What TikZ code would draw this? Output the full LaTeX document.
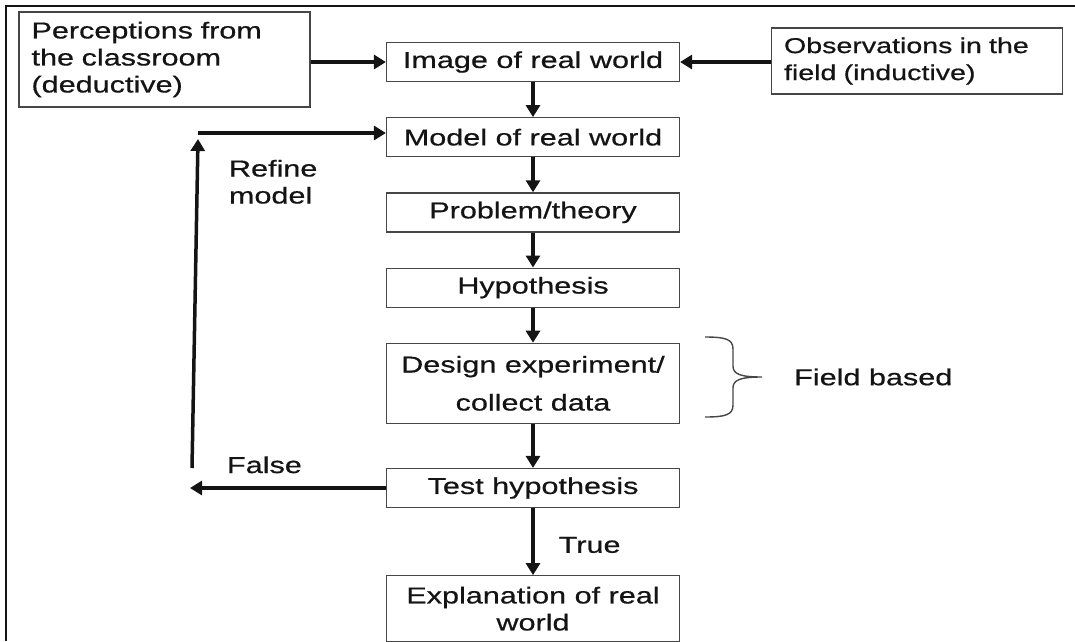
\documentclass[tikz,border=0pt]{standalone}
\usepackage{fontspec}
\setmainfont[FakeStretch=1.33,FakeBold=0.6]{Liberation Sans}
\usepackage{tikz}
\usetikzlibrary{positioning,arrows.meta}
\definecolor{colorline}{RGB}{70,70,70}
\definecolor{colortext}{RGB}{20,20,20}

\begin{document}
\begin{tikzpicture}[
    x=1pt, y=-1pt,
    node distance = 35pt, auto,
    font={\fontsize{23}{27}\selectfont},
    stage/.style={text=colortext,draw=colorline,line width=1.2pt,inner sep=0pt,align=center,rectangle,minimum width=293pt,minimum height=39pt},
    source/.style={text=colortext,draw=colorline,line width=1.2pt,inner xsep=12.5pt,inner ysep=0pt,align=left,rectangle,text width=266pt},
    relation/.style={->,>={Triangle[length=12pt,width=14pt]},line width=3.5pt,colortext},
    tag/.style={text=colortext,inner sep=0pt,align=left},
]
    \useasboundingbox (0,0) rectangle (1075,641);

    % Frame
    \draw[line width=2pt,colortext] (1075,6) -- (6,6) -- (6,641);

    % Concepts
    \node[stage] (image) at (533,62) {Image of real world};
    \node[stage, below=of image] (model) {Model of real world};
    \node[stage, below=of model] (problem) {Problem/theory};
    \node[stage, below=of problem] (hypo) {Hypothesis};
    \node[stage, below=of hypo, minimum height=80pt] (design) {Design experiment/\\[11pt]collect data};
    \node[stage, below=44pt of design] (test) {Test hypothesis};
    \node[stage, below=67pt of test, minimum height=66pt] (explain) {Explanation of real\\world};

    \node[source, minimum height=95pt] (percep) at (164.5,59.5) {Perceptions from\\the classroom\\(deductive)};
    \node[source, minimum height=66pt, font={\fontsize{21.5}{27}\selectfont}] (observ) at (917,61) {Observations in the\\field (inductive)};

    \node[tag, anchor=west] (field) at (794,377) {Field based};

    % Loop points
    \coordinate (falseend) at (190,482);
    \coordinate (loopbot) at (192,468);
    \coordinate (looptop) at (198,139);
    \coordinate (refine) at (198,133);

    % Concept relations
    \draw[relation] (percep.east |- image.west) -- (image.west);
    \draw[relation] (observ.west |- image.east) -- (image.east);

    \draw[relation] (image) -- (model);
    \draw[relation] (model) -- (problem);
    \draw[relation] (problem) -- (hypo);
    \draw[relation] (hypo) -- (design);
    \draw[relation] (design) -- (test);
    \draw[relation] (test) -- (explain) node [right=24pt,pos=0.55,tag] (truelbl) {True};

    \draw[relation] (test.west) -- (test.west -| falseend) node [above=13pt,pos=0.62,tag] (falselbl) {False};
    \draw[relation] (loopbot) -- (looptop) node [right=30pt,pos=0.87,tag] (refinelbl) {Refine\\model};
    \draw[relation] (refine) -- (refine -| model.west);

    % Brace
    \draw[colorline,line width=1.4pt] (705,337) .. controls (725,337) and (733,339) .. (733,349) -- (733,366)
        .. controls (733,374) and (740,377) .. (762,377)
        .. controls (740,377) and (733,380) .. (733,388) -- (733,405)
        .. controls (733,415) and (725,417) .. (705,417);

\end{tikzpicture}
\end{document}
